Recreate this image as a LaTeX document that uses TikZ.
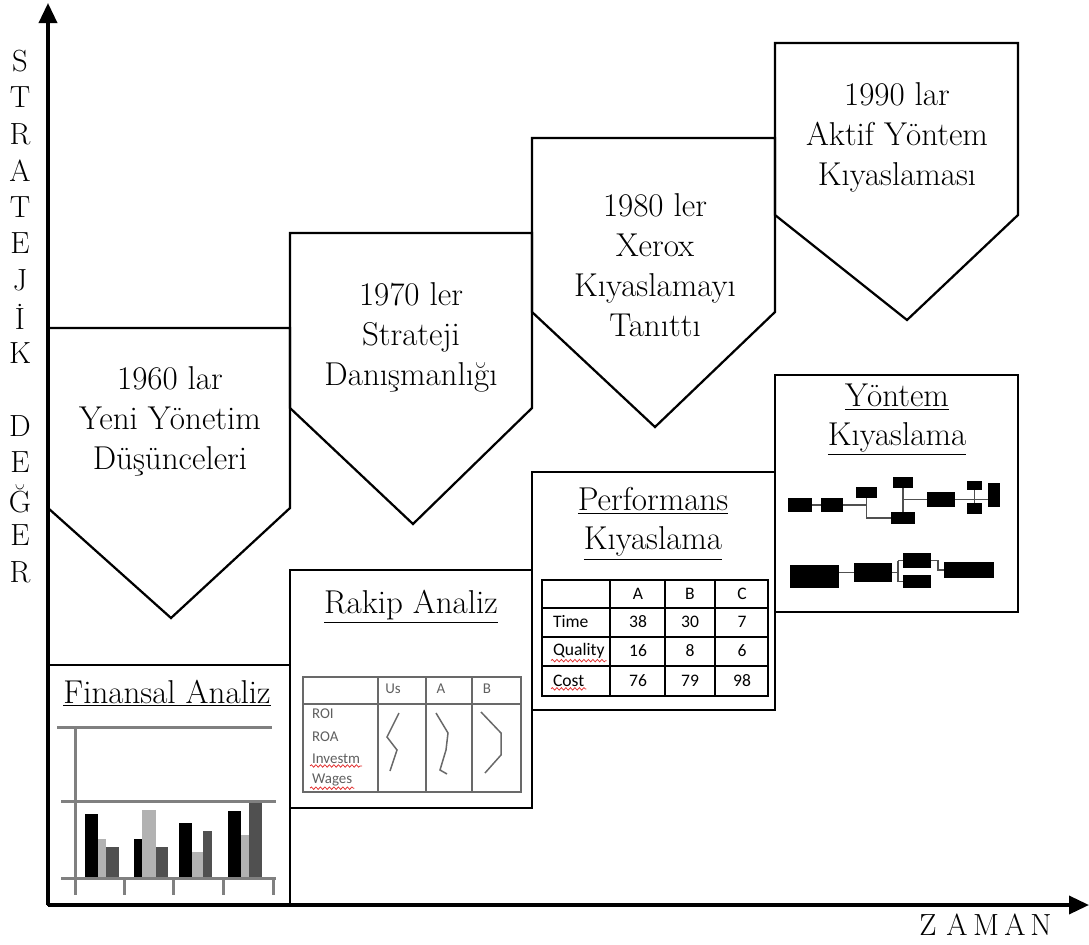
\documentclass[tikz,border=0pt]{standalone}
\usepackage{fontspec}
\setsansfont{Carlito}
\usetikzlibrary{arrows.meta,positioning,calc,decorations.pathmorphing}
\definecolor{chartgray}{RGB}{128,128,128}
\definecolor{barlight}{RGB}{178,178,178}
\definecolor{bardark}{RGB}{80,80,80}
\definecolor{gridgray}{RGB}{105,105,105}
\definecolor{textgray}{RGB}{95,95,95}
\definecolor{spellred}{RGB}{225,45,45}

\begin{document}
\begin{tikzpicture}[
  x=0.2mm, y=-0.2mm,
  axis/.style={line width=0.7mm, -{Triangle[length=4mm, width=3.6mm]}},
  era/.style={draw, line width=0.45mm, line join=miter},
  eratext/.style={align=center, font=\fontsize{18.8}{22.8}\selectfont},
  panel/.style={draw, line width=0.45mm},
  paneltitle/.style={align=center, font=\fontsize{18.8}{22.2}\selectfont},
  axisletter/.style={font=\fontsize{17.4}{20}\selectfont, inner sep=0pt},
  chartline/.style={draw=chartgray, line width=0.6mm},
  grid/.style={draw=gridgray, line width=0.3mm},
  cell/.style={font=\sffamily\fontsize{10}{12}\selectfont, inner sep=1pt},
  smallcell/.style={font=\sffamily\fontsize{8.5}{10}\selectfont, text=textgray, inner sep=1pt},
  spell/.style={draw=spellred, line width=0.15mm, decorate,
                decoration={snake, amplitude=0.25mm, segment length=0.9mm}},
  fb/.style 2 args={fill=black, inner sep=0pt, minimum width=#1*0.2mm, minimum height=#2*0.2mm},
  flowline/.style={draw=bardark, line width=0.3mm}
]
\useasboundingbox (0,0) rectangle (1089,945);

% era pentagons
\draw[era] (48,328) -- (290,328) -- (290,508) -- (171,618) -- (48,508) -- cycle;
\draw[era] (290,233) -- (532,233) -- (532,408) -- (413,524) -- (290,408) -- cycle;
\draw[era] (532,138) -- (775,138) -- (775,312) -- (655,427) -- (532,312) -- cycle;
\draw[era] (775,43) -- (1018,43) -- (1018,215) -- (907,320) -- (775,215) -- cycle;

\node[eratext] (e60) at (170,421) {1960 lar\\Yeni Yönetim\\Düşünceleri};
\node[eratext] (e70) at (411,337) {1970 ler\\Strateji\\Danışmanlığı};
\node[eratext] (e80) at (655,265.5) {1980 ler\\Xerox\\Kıyaslamayı\\Tanıttı};
\node[eratext] (e90) at (897,137.5) {1990 lar\\Aktif Yöntem\\Kıyaslaması};

% panels
\draw[panel] (48,665) rectangle (290,905);
\draw[panel] (290,570) rectangle (532,808);
\draw[panel] (532,472) rectangle (775,710);
\draw[panel] (775,375) rectangle (1018,612);

\node[paneltitle, anchor=base] (fintitle) at (167,703) {\underline{Finansal Analiz}};
\node[paneltitle, anchor=base] (rivtitle) at (411,613) {\underline{Rakip Analiz}};
\node[paneltitle] (perftitle) at (653,524) {\underline{Performans}\\\underline{Kıyaslama}};
\node[paneltitle] (methtitle) at (897,420) {\underline{Yöntem}\\\underline{Kıyaslama}};

% bar chart
\draw[chartline] (57,727) -- (272,727);
\draw[chartline] (61,801) -- (276,801);
\draw[chartline] (75,727) -- (75,895);
\foreach \xa/\xb/\xc/\xd/\ta/\tb/\tc in {85/98/106/119/814/839/847,
    134/142/156/168/839/810/847, 179/192/203/212/823/852/831,
    228/241/249/262/811/835/803}{
  \fill[black] (\xa,877) rectangle (\xb,\ta);
  \fill[barlight] (\xb,877) rectangle (\xc,\tb);
  \fill[bardark] (\xc,877) rectangle (\xd,\tc);
}
\draw[chartline] (61,878) -- (276,878);
\foreach \x in {124,173,223,273}
  \draw[chartline] (\x,878) -- (\x,895);

% rival table
\draw[grid] (303,677) rectangle (521,792);
\draw[grid] (303,704) -- (521,704);
\foreach \x in {378,426,472}
  \draw[grid] (\x,677) -- (\x,792);
\node[smallcell] (hUs) at (393,689) {Us};
\node[smallcell] (hA) at (441,689) {A};
\node[smallcell] (hB) at (487,689) {B};
\foreach \r/\y in {ROI/714, ROA/737, Investm/759, Wages/780}
  \node[smallcell, anchor=west] (k\r) at (310,\y) {\r};
\draw[spell] (kInvestm.south west) -- (kInvestm.south east);
\draw[spell] (kWages.south west) -- (kWages.south east);
\draw[grid] (399,713) -- (387,737) -- (397,750) -- (390,771);
\draw[grid] (436,713) -- (448,733) -- (446,750) -- (440,770) -- (447,774);
\draw[grid] (481,712) -- (501,733) -- (501,755) -- (485,773);

% performance table
\draw[grid, draw=black] (542,580) rectangle (768,696);
\foreach \y in {608,637,666}
  \draw[grid, draw=black] (542,\y) -- (768,\y);
\foreach \x in {610,665,715}
  \draw[grid, draw=black] (\x,580) -- (\x,696);
\node[cell] (pA) at (638,594) {A};
\node[cell] (pB) at (690,594) {B};
\node[cell] (pC) at (742,594) {C};
\foreach \r/\y/\a/\b/\c in {Time/622/38/30/7, Quality/651/16/8/6, Cost/681/76/79/98}{
  \node[cell, anchor=west] (r\r) at (551,\y) {\r};
  \node[cell] (r\r A) at (638,\y) {\a};
  \node[cell] (r\r B) at (690,\y) {\b};
  \node[cell] (r\r C) at (742,\y) {\c};
}
\draw[spell] (rQuality.south west) -- (rQuality.south east);
\draw[spell] (rCost.south west) -- (rCost.south east);

% method flow, upper row
\node[fb={24}{14}] (b1) at (800,505) {};
\node[fb={22}{14}] (b2) at (832,505) {};
\node[fb={21}{11}] (b3) at (866.5,492.5) {};
\node[fb={20}{11}] (b4) at (903,482.5) {};
\node[fb={24}{12}] (b5) at (903,518) {};
\node[fb={28}{15}] (b6) at (941,499.5) {};
\node[fb={15}{9}] (b7) at (974.5,485.5) {};
\node[fb={15}{11}] (b8) at (974.5,508.5) {};
\node[fb={12}{24}] (b9) at (994,495) {};
\draw[flowline] (b1) -- (b2);
\draw[flowline] (b2.east) -- (b2.east -| b3.south);
\draw[flowline] (b3.south) |- (b5.west);
\draw[flowline] (b4.south) -- (b5.north);
\draw[flowline] (b4.south |- b6.west) -- (b6.west);
\draw[flowline] (b6.east) -- (b9.west |- b6.east);
\draw[flowline] (b7.south) -- (b8.north);

% method flow, lower row
\node[fb={49}{23}] (c1) at (814.5,576.5) {};
\node[fb={38}{19}] (c2) at (873,572.5) {};
\node[fb={28}{15}] (c3) at (917,560.5) {};
\node[fb={28}{13}] (c4) at (917,581.5) {};
\node[fb={50}{16}] (c5) at (969,570) {};
\coordinate (split) at (898,572.5);
\coordinate (merge) at (938,560.5);
\draw[flowline] (c1.east |- c2.west) -- (c2.west);
\draw[flowline] (c2.east) -- (split);
\draw[flowline] (split |- c3.west) -- (split |- c4.west);
\draw[flowline] (split |- c3.west) -- (c3.west);
\draw[flowline] (split |- c4.west) -- (c4.west);
\draw[flowline] (c3.east) -- (merge) |- (c5.west);

% axes
\coordinate (origin) at (48,905);
\coordinate (ytip) at (48,3);
\coordinate (xtip) at (1089,905);
\draw[axis] (origin) -- (ytip);
\draw[axis] (origin) -- (xtip);

\foreach \ch/\y [count=\i] in {S/61, T/97.5, R/134, A/170.5, T/207, E/243.5, J/280,
    İ/316.5, K/353, D/426, E/462.5, Ğ/499, E/535.5, R/572}
  \node[axisletter] (v\i) at (20,\y) {\ch};
\foreach \ch/\x [count=\i] in {Z/928, A/957, M/986, A/1015, N/1041}
  \node[axisletter] (h\i) at (\x,925) {\ch};
\end{tikzpicture}
\end{document}
